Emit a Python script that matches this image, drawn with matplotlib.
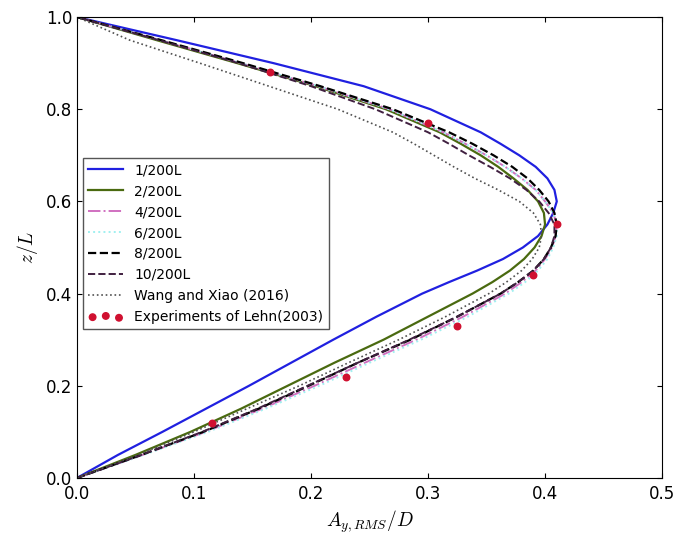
import matplotlib
matplotlib.use("Agg")
from matplotlib import pyplot as plt

plt.rcParams['mathtext.fontset'] = 'cm'
plt.rcParams['font.family'] = 'DejaVu Sans'

# z/L levels shared by all numerical curves (finer around the peak)
z = [0.0, 0.05, 0.1, 0.15, 0.2, 0.25, 0.3, 0.35, 0.4, 0.425, 0.45, 0.475, 0.5,
     0.525, 0.55, 0.575, 0.6, 0.625, 0.65, 0.675, 0.7, 0.725, 0.75,
     0.8, 0.85, 0.9, 0.95, 1.0]

a_1 = [0.0, 0.035, 0.073, 0.11, 0.147, 0.183, 0.219, 0.256, 0.295, 0.318, 0.342, 0.364, 0.381,
       0.394, 0.402, 0.407, 0.41, 0.408, 0.402, 0.392, 0.378, 0.362, 0.345,
       0.302, 0.245, 0.168, 0.085, 0.0]
a_2 = [0.0, 0.05, 0.097, 0.14, 0.18, 0.22, 0.262, 0.30, 0.338, 0.355, 0.37, 0.382, 0.391,
       0.397, 0.40, 0.399, 0.394, 0.385, 0.373, 0.36, 0.345, 0.328, 0.31,
       0.264, 0.204, 0.137, 0.068, 0.0]
a_4 = [0.0, 0.056, 0.11, 0.158, 0.203, 0.246, 0.29, 0.33, 0.366, 0.38, 0.392, 0.40, 0.406,
       0.409, 0.41, 0.407, 0.40, 0.392, 0.38, 0.366, 0.35, 0.332, 0.313,
       0.267, 0.206, 0.14, 0.071, 0.0]
a_6 = [0.0, 0.057, 0.112, 0.161, 0.207, 0.25, 0.294, 0.334, 0.369, 0.383, 0.394, 0.402, 0.407,
       0.41, 0.41, 0.407, 0.40, 0.392, 0.38, 0.366, 0.35, 0.332, 0.313,
       0.267, 0.206, 0.14, 0.071, 0.0]
a_8 = [0.0, 0.055, 0.108, 0.155, 0.198, 0.24, 0.285, 0.325, 0.362, 0.377, 0.39, 0.399, 0.405,
       0.409, 0.41, 0.408, 0.403, 0.395, 0.385, 0.372, 0.356, 0.338, 0.318,
       0.27, 0.208, 0.142, 0.072, 0.0]
a_10 = [0.0, 0.055, 0.107, 0.154, 0.197, 0.24, 0.284, 0.325, 0.362, 0.377, 0.39, 0.399, 0.405,
        0.408, 0.408, 0.403, 0.395, 0.384, 0.37, 0.353, 0.335, 0.318, 0.30,
        0.255, 0.20, 0.138, 0.07, 0.0]
a_wang = [0.0, 0.052, 0.1, 0.145, 0.19, 0.232, 0.275, 0.315, 0.352, 0.367, 0.38, 0.389, 0.395,
          0.397, 0.396, 0.39, 0.378, 0.36, 0.34, 0.322, 0.305, 0.288, 0.27,
          0.223, 0.164, 0.105, 0.045, 0.0]

# experiments of Lehn (2003)
exp_a = [0.115, 0.23, 0.325, 0.39, 0.41, 0.30, 0.165]
exp_z = [0.12, 0.22, 0.33, 0.44, 0.55, 0.77, 0.88]

fig = plt.figure(figsize=(6.94, 5.34), dpi=100)
ax = fig.add_axes([0.111, 0.105, 0.843, 0.863])

ax.plot(a_1, z, color='#2020e0', lw=1.6, label='1/200L')
ax.plot(a_2, z, color='#4a6a10', lw=1.6, label='2/200L')
ax.plot(a_4, z, color='#d070c0', lw=1.4, ls='-.', label='4/200L')
ax.plot(a_6, z, color='#a0f0f0', lw=1.4, ls=':', label='6/200L')
ax.plot(a_8, z, color='black', lw=1.6, ls='--', label='8/200L')
ax.plot(a_10, z, color='#402040', lw=1.4, ls='--', label='10/200L')
ax.plot(a_wang, z, color='#505050', lw=1.2, ls=':', label='Wang and Xiao (2016)')
ax.scatter(exp_a, exp_z, s=22, color='#d01030', zorder=5, label='Experiments of Lehn(2003)')

ax.set_xlim(0, 0.5)
ax.set_ylim(0, 1.0)
ax.set_xticks([0.0, 0.1, 0.2, 0.3, 0.4, 0.5])
ax.set_yticks([0.0, 0.2, 0.4, 0.6, 0.8, 1.0])
ax.tick_params(direction='in', labelsize=12, top=True, right=True)
ax.tick_params(axis='x', pad=5)
ax.set_xlabel('$A_{y,RMS}/D$', fontsize=14)
ax.set_ylabel('$z/L$', fontsize=14)

leg = ax.legend(loc='upper left', bbox_to_anchor=(0.01, 0.695), fontsize=10,
                scatterpoints=3, fancybox=False, framealpha=1, edgecolor='#555555',
                borderaxespad=0, handlelength=2.5)
leg.get_frame().set_linewidth(1.0)

fig.savefig('out.png', dpi=100)
